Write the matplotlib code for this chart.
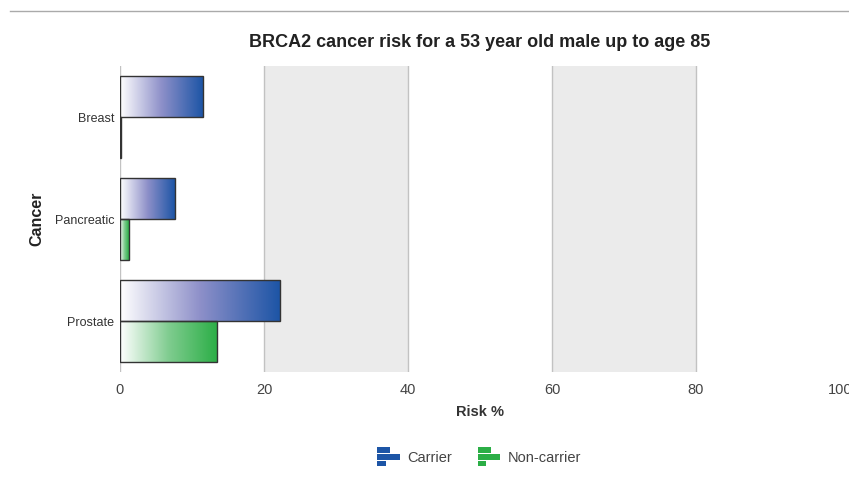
import numpy as np
import matplotlib.pyplot as plt
from matplotlib.colors import LinearSegmentedColormap
from matplotlib.patches import Rectangle
from matplotlib.legend_handler import HandlerBase

plt.rcParams['font.family'] = ['Liberation Sans', 'DejaVu Sans']

cancers = ['Breast', 'Pancreatic', 'Prostate']
carrier = [11.5, 7.6, 22.2]
non_carrier = [0.2, 1.2, 13.5]
series_names = ['Carrier', 'Non-carrier']

blue_cmap = LinearSegmentedColormap.from_list('b', ['#ffffff', '#8e90c9', '#1d55a6'])
green_cmap = LinearSegmentedColormap.from_list('g', ['#ffffff', '#7fcc8f', '#2bae46'])

fig = plt.figure(figsize=(8.49, 4.88), dpi=100)
ax = fig.add_axes([120 / 849, 1 - 372 / 488, 720 / 849, 306 / 488])

# alternating bands and grid
for lo in (20, 60):
    ax.axvspan(lo, lo + 20, color='#ebebeb', zorder=0, lw=0)
for x in (20, 40, 60, 80):
    ax.axvline(x, color='#c2c2c2', lw=1, zorder=1)
ax.axvline(0, color='#c2c2c2', lw=1, zorder=1)

h = 0.4
grad = np.linspace(0, 1, 256).reshape(1, -1)
for i, name in enumerate(cancers):
    for vals, cmap, off in ((carrier, blue_cmap, -h / 2), (non_carrier, green_cmap, h / 2)):
        v = vals[i]
        y0 = i + off - h / 2
        rect = Rectangle((0, y0), v, h, facecolor='none', edgecolor='#333333', lw=1, zorder=4)
        ax.add_patch(rect)
        im = ax.imshow(grad, cmap=cmap, aspect='auto', extent=(0, v, y0 + h, y0),
                       zorder=3, interpolation='bilinear')
        im.set_clip_path(rect)

ax.set_xlim(0, 100)
ax.set_ylim(2.5, -0.5)
ax.set_xticks([0, 20, 40, 60, 80, 100])
ax.set_yticks(range(len(cancers)))
ax.set_yticklabels(cancers, fontsize=9, color='#333333')
ax.tick_params(axis='x', length=0, labelsize=10.5, colors='#444444', pad=8)
ax.tick_params(axis='y', length=0, pad=4)
for s in ax.spines.values():
    s.set_visible(False)

ax.set_xlabel('Risk %', fontsize=10.5, fontweight='bold', color='#333333', labelpad=6)
ax.set_ylabel('Cancer', fontsize=11.5, fontweight='bold', color='#222222')
ax.yaxis.set_label_coords(-76 / 720, 0.5)
ax.set_title('BRCA2 cancer risk for a 53 year old male up to age 85',
             fontsize=13, fontweight='bold', color='#222222', pad=14)

# header rule at top
fig.add_artist(plt.Line2D([10 / 849, 1], [1 - 11 / 488] * 2, color='#aaaaaa', lw=1))


class BarIcon(HandlerBase):
    def create_artists(self, legend, orig, xd, yd, w, hgt, fontsize, trans):
        c = orig.get_facecolor()
        total = 15.0
        s = total / 3
        cy = yd + hgt / 2
        top = cy + total / 2
        widths = [0.6, 1.0, 0.38]
        arts = []
        for k, fw in enumerate(widths):
            r = Rectangle((xd, top - (k + 1) * s + 0.6), w * fw, s - 1.2,
                          facecolor=c, edgecolor='none', transform=trans)
            arts.append(r)
        return arts


handles = [Rectangle((0, 0), 1, 1, facecolor='#1d55a6'),
           Rectangle((0, 0), 1, 1, facecolor='#2bae46')]
fig.legend(handles, series_names, loc='center', bbox_to_anchor=(479 / 849, 1 - 458 / 488),
           ncol=2, frameon=False, fontsize=10.5, handlelength=1.55, handleheight=0.7,
           handletextpad=0.5, columnspacing=1.8, labelcolor='#444444',
           handler_map={Rectangle: BarIcon()})

fig.savefig('out.png', dpi=100)
